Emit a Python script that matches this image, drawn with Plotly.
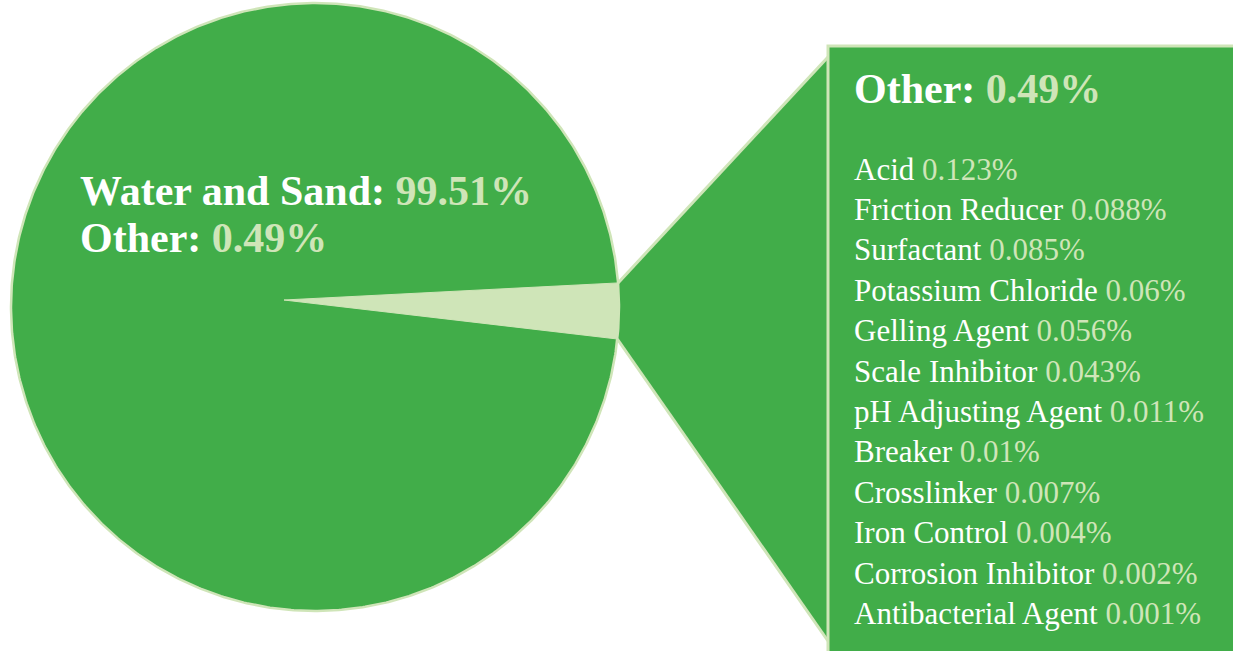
import numpy as np
import plotly.graph_objects as go

# ---------------- data ----------------
main_labels = ["Water and Sand", "Other"]
main_values = [99.51, 0.49]

other_labels = [
    "Acid", "Friction Reducer", "Surfactant", "Potassium Chloride",
    "Gelling Agent", "Scale Inhibitor", "pH Adjusting Agent", "Breaker",
    "Crosslinker", "Iron Control", "Corrosion Inhibitor", "Antibacterial Agent",
]
other_values = [0.123, 0.088, 0.085, 0.06, 0.056, 0.043, 0.011, 0.01,
                0.007, 0.004, 0.002, 0.001]

# ---------------- style ----------------
W, H = 1233, 651
GREEN = "#41AD49"
LIGHT = "#CFE5B8"
FONT = "Liberation Serif"
CX, CY, R = 315, 307, 304          # pie centre / radius (px)
EXAGGERATION = 6.0                  # visual enlargement of the small wedge
WEDGE_MID_DEG = 0.75                # wedge bisector (deg, clockwise from east)
APEX_OFFSET = (-31, -7)             # wedge tip offset from centre
RECT_X, RECT_Y = 828, 46
CALLOUT_TOP, CALLOUT_BOT = 57, 641
TITLE_FS, ITEM_FS = 42, 31
TEXT_PAD = 3                        # annotation inner padding compensation
LABEL_X = 81
LIST_X, LIST_TOP, LIST_STEP = 855, 169, 40.4


def fmt(v):
    return ("%g" % v)


total = sum(main_values)
span = main_values[1] / total * 360.0 * EXAGGERATION
a1 = np.deg2rad(WEDGE_MID_DEG - span / 2)
a2 = np.deg2rad(WEDGE_MID_DEG + span / 2)

fig = go.Figure()

# callout (trapezoid from wedge to the box)
top_pt = (CX + R * np.cos(a1), CY + R * np.sin(a1))
bot_pt = (CX + R * np.cos(a2), CY + R * np.sin(a2))
fig.add_trace(go.Scatter(
    x=[top_pt[0], RECT_X, RECT_X, bot_pt[0], top_pt[0]],
    y=[top_pt[1], CALLOUT_TOP, CALLOUT_BOT, bot_pt[1], top_pt[1]],
    mode="lines", fill="toself", fillcolor=GREEN,
    line=dict(width=0, color=GREEN), hoverinfo="skip", showlegend=False))
for p, yy in ((top_pt, CALLOUT_TOP), (bot_pt, CALLOUT_BOT)):
    fig.add_trace(go.Scatter(
        x=[p[0], RECT_X], y=[p[1], yy], mode="lines",
        line=dict(width=3, color=LIGHT), hoverinfo="skip", showlegend=False))

# pie: full disc for the main share
t = np.linspace(0, 2 * np.pi, 721)
fig.add_trace(go.Scatter(
    x=CX + R * np.cos(t), y=CY + R * np.sin(t), mode="lines",
    fill="toself", fillcolor=GREEN, line=dict(width=2.5, color=LIGHT),
    hoverinfo="skip", showlegend=False, name=main_labels[0]))

# wedge for "Other"
ta = np.linspace(a1, a2, 60)
wx = [CX + APEX_OFFSET[0]] + list(CX + R * np.cos(ta)) + [CX + APEX_OFFSET[0]]
wy = [CY + APEX_OFFSET[1]] + list(CY + R * np.sin(ta)) + [CY + APEX_OFFSET[1]]
fig.add_trace(go.Scatter(
    x=wx, y=wy, mode="lines", fill="toself", fillcolor=LIGHT,
    line=dict(width=1, color=LIGHT), hoverinfo="skip", showlegend=False,
    name=main_labels[1]))

# detail box
fig.add_shape(type="rect", x0=RECT_X, y0=RECT_Y, x1=W + 20, y1=H + 20,
              xref="x", yref="y", fillcolor=GREEN,
              line=dict(color=LIGHT, width=3), layer="above")

ann = []
span_c = "<span style='color:%s'>%s%%</span>"
# pie labels
for i, (lab, val) in enumerate(zip(main_labels, main_values)):
    ann.append(dict(
        x=LABEL_X - TEXT_PAD, y=191 + i * 47, xref="x", yref="y",
        xanchor="left", yanchor="middle", showarrow=False,
        text="<b>%s: %s</b>" % (lab, span_c % (LIGHT, fmt(val))),
        font=dict(family=FONT, size=TITLE_FS, color="white")))
# box title
ann.append(dict(
    x=LIST_X - TEXT_PAD, y=89, xref="x", yref="y", xanchor="left",
    yanchor="middle", showarrow=False,
    text="<b>%s: %s</b>" % (main_labels[1], span_c % (LIGHT, fmt(main_values[1]))),
    font=dict(family=FONT, size=TITLE_FS, color="white")))
# box list
for i, (lab, val) in enumerate(zip(other_labels, other_values)):
    ann.append(dict(
        x=LIST_X - TEXT_PAD, y=LIST_TOP + i * LIST_STEP, xref="x", yref="y",
        xanchor="left", yanchor="middle", showarrow=False,
        text="%s %s" % (lab, span_c % (LIGHT, fmt(val))),
        font=dict(family=FONT, size=ITEM_FS, color="white")))

fig.update_layout(
    width=W, height=H, margin=dict(l=0, r=0, t=0, b=0),
    paper_bgcolor="white", plot_bgcolor="white",
    xaxis=dict(range=[0, W], visible=False, fixedrange=True),
    yaxis=dict(range=[H, 0], visible=False, fixedrange=True),
    annotations=ann, showlegend=False, hovermode=False)

fig.write_html(
    "out.html",
    config={"displayModeBar": False, "staticPlot": True},
    post_script="document.body.style.margin='0';document.body.style.overflow='hidden';")
